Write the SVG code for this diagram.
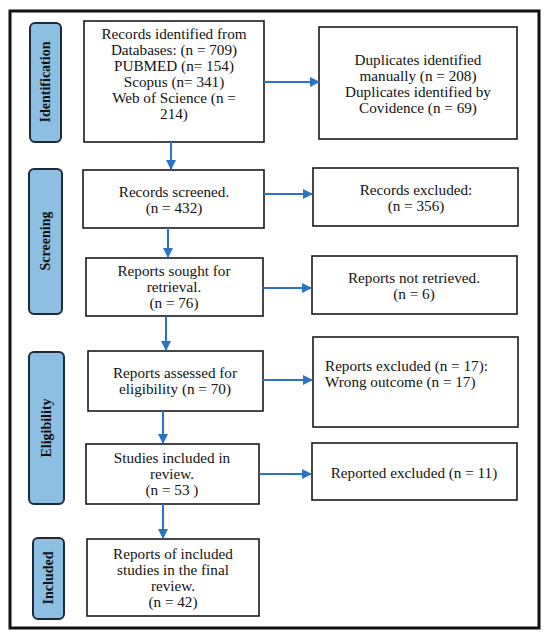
<svg xmlns="http://www.w3.org/2000/svg" width="550" height="640" viewBox="0 0 550 640">
<defs>
<marker id="ah" viewBox="0 0 10 10" refX="9" refY="5" markerWidth="10" markerHeight="10" markerUnits="userSpaceOnUse" orient="auto">
<path d="M0,0 L10,5 L0,10 z" fill="#2b73c4"/>
</marker>
<style>
.box{fill:#fff;stroke:#1a1a1a;stroke-width:1.6}
.lab{fill:#8dbfe3;stroke:#1e2a38;stroke-width:2}
.t{font-family:"Liberation Serif","Times New Roman",serif;font-size:15.2px;fill:#111;text-anchor:middle}
.tl{text-anchor:start}
.lt{font-family:"Liberation Serif","Times New Roman",serif;font-size:14px;font-weight:bold;fill:#111;text-anchor:middle}
.c{stroke:#2b73c4;stroke-width:2;fill:none;marker-end:url(#ah)}
</style>
</defs>
<rect x="0" y="0" width="550" height="640" fill="#fff"/>
<rect x="10" y="11" width="529" height="617" fill="none" stroke="#111" stroke-width="3"/>

<g id="label-identification">
<rect class="lab" x="30" y="23" width="31" height="119" rx="5"/>
<text class="lt" transform="translate(50,82) rotate(-90)">Identification</text>
</g>
<g id="label-screening">
<rect class="lab" x="29" y="169" width="33" height="145" rx="5"/>
<text class="lt" transform="translate(50,241) rotate(-90)">Screening</text>
</g>
<g id="label-eligibility">
<rect class="lab" x="29" y="352" width="35" height="152" rx="5"/>
<text class="lt" transform="translate(51,428) rotate(-90)">Eligibility</text>
</g>
<g id="label-included">
<rect class="lab" x="33" y="538" width="31" height="81" rx="5"/>
<text class="lt" transform="translate(53,578) rotate(-90)">Included</text>
</g>

<g id="records-identified">
<rect class="box" x="84" y="21" width="180" height="121"/>
<text class="t" x="174" y="39">Records identified from</text>
<text class="t" x="174" y="55">Databases: (n = 709)</text>
<text class="t" x="174" y="71">PUBMED (n= 154)</text>
<text class="t" x="174" y="87">Scopus (n= 341)</text>
<text class="t" x="174" y="103">Web of Science (n =</text>
<text class="t" x="174" y="119">214)</text>
</g>
<g id="duplicates">
<rect class="box" x="319" y="27" width="198" height="112"/>
<text class="t" x="418" y="65">Duplicates identified</text>
<text class="t" x="418" y="81">manually (n = 208)</text>
<text class="t" x="418" y="97">Duplicates identified by</text>
<text class="t" x="418" y="113">Covidence (n = 69)</text>
</g>
<g id="records-screened">
<rect class="box" x="83" y="170" width="181" height="58"/>
<text class="t" x="174" y="197">Records screened.</text>
<text class="t" x="174" y="213">(n = 432)</text>
</g>
<g id="records-excluded">
<rect class="box" x="313" y="168" width="205" height="58"/>
<text class="t" x="416" y="195">Records excluded:</text>
<text class="t" x="416" y="211">(n = 356)</text>
</g>
<g id="reports-sought">
<rect class="box" x="86" y="258" width="177" height="58"/>
<text class="t" x="174" y="276">Reports sought for</text>
<text class="t" x="174" y="292">retrieval.</text>
<text class="t" x="174" y="308">(n = 76)</text>
</g>
<g id="reports-not-retrieved">
<rect class="box" x="312" y="256" width="205" height="58"/>
<text class="t" x="414" y="283">Reports not retrieved.</text>
<text class="t" x="414" y="299">(n = 6)</text>
</g>
<g id="reports-assessed">
<rect class="box" x="88" y="351" width="175" height="60"/>
<text class="t" x="175" y="378">Reports assessed for</text>
<text class="t" x="175" y="394">eligibility (n = 70)</text>
</g>
<g id="reports-excluded">
<rect class="box" x="313" y="337" width="205" height="90"/>
<text class="t tl" x="325" y="371">Reports excluded (n = 17):</text>
<text class="t tl" x="325" y="387">Wrong outcome (n = 17)</text>
</g>
<g id="studies-included">
<rect class="box" x="86" y="444" width="173" height="60"/>
<text class="t" x="172" y="463">Studies included in</text>
<text class="t" x="172" y="479">review.</text>
<text class="t" x="172" y="495">(n = 53 )</text>
</g>
<g id="reported-excluded">
<rect class="box" x="312" y="443" width="205" height="57"/>
<text class="t" x="414" y="478">Reported excluded (n = 11)</text>
</g>
<g id="final-review">
<rect class="box" x="87" y="539" width="172" height="77"/>
<text class="t" x="173" y="559">Reports of included</text>
<text class="t" x="173" y="575">studies in the final</text>
<text class="t" x="173" y="591">review.</text>
<text class="t" x="173" y="607">(n = 42)</text>
</g>

<g id="connectors">
<line class="c" x1="264" y1="82" x2="319" y2="82"/>
<line class="c" x1="171" y1="142" x2="171" y2="169"/>
<line class="c" x1="264" y1="194" x2="312" y2="194"/>
<line class="c" x1="168" y1="228" x2="168" y2="257"/>
<line class="c" x1="263" y1="288" x2="311" y2="288"/>
<line class="c" x1="166" y1="316" x2="166" y2="350"/>
<line class="c" x1="263" y1="380" x2="312" y2="380"/>
<line class="c" x1="163" y1="411" x2="163" y2="443"/>
<line class="c" x1="259" y1="474" x2="311" y2="474"/>
<line class="c" x1="163" y1="504" x2="163" y2="538"/>
</g>
</svg>
